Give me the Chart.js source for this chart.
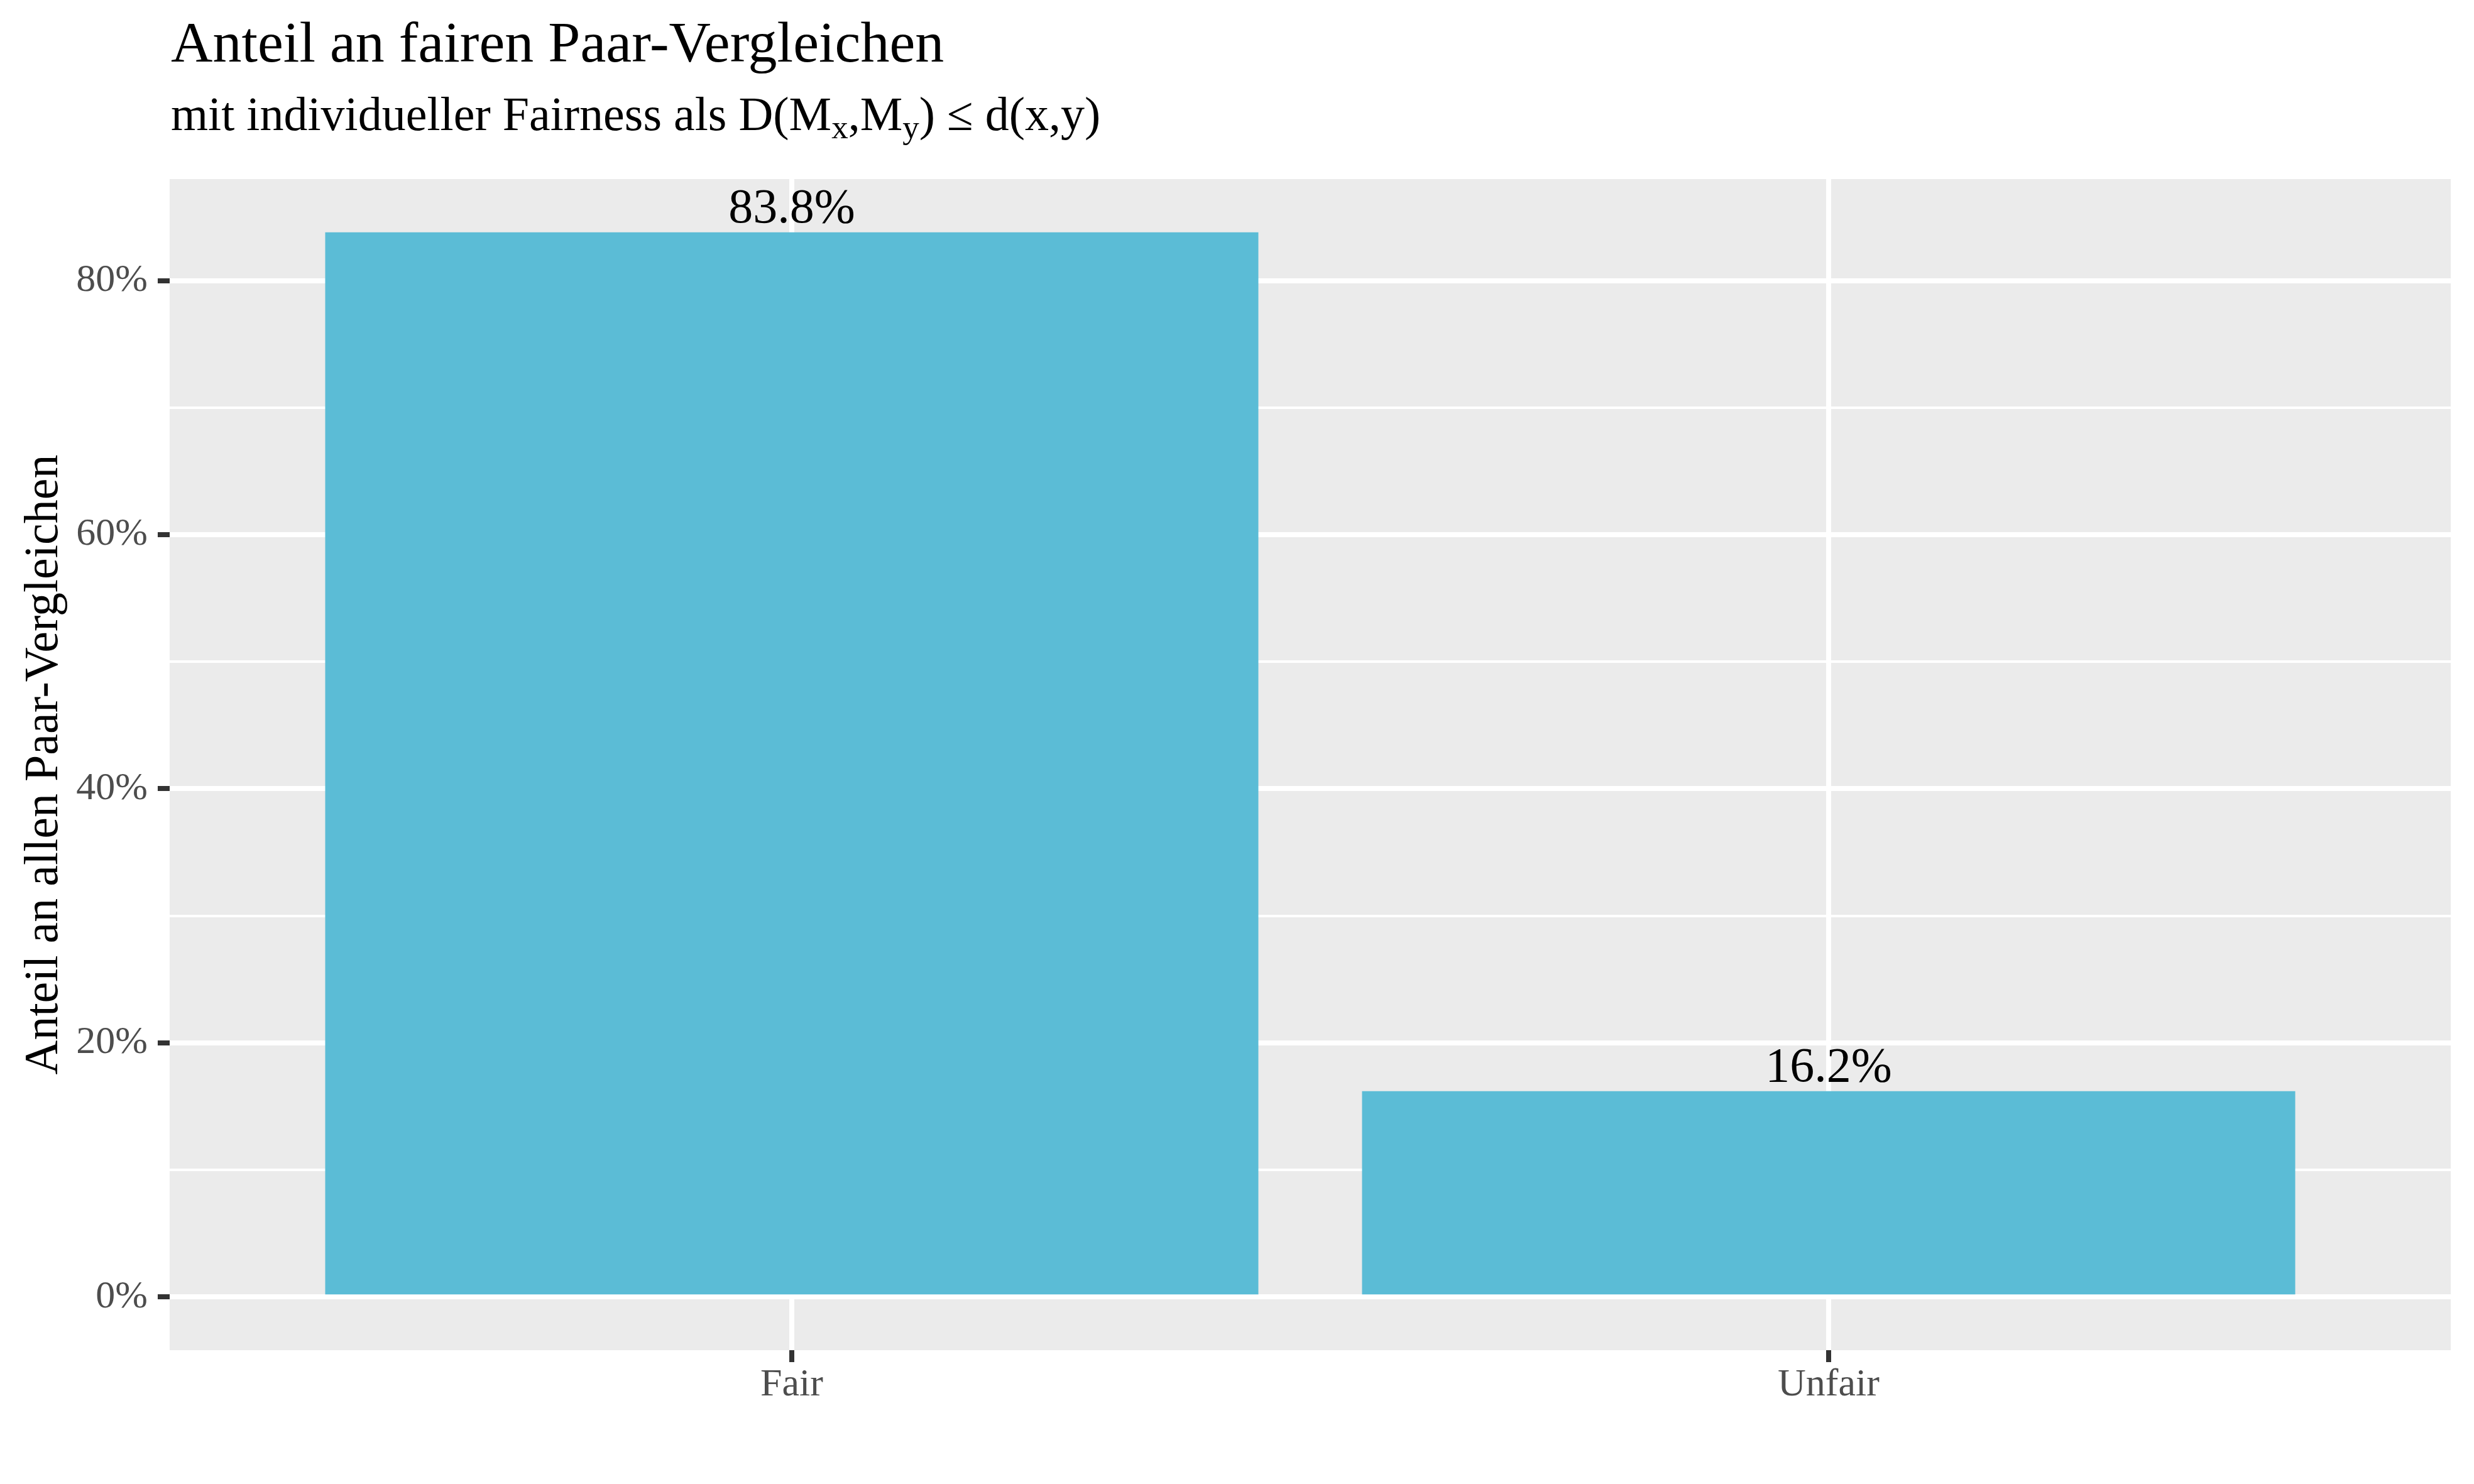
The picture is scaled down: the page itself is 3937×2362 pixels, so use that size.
<!DOCTYPE html>
<html>
<head>
<meta charset="utf-8">
<script src="https://cdn.jsdelivr.net/npm/chart.js@4.4.1/dist/chart.umd.min.js"></script>
<style>
  html, body { margin: 0; padding: 0; background: #ffffff; }
  #shareChart { display: block; }
</style>
</head>
<body>
<canvas id="shareChart" width="3937" height="2362"></canvas>
<script>
// data
const categories = ['Fair', 'Unfair'];
const shares = [83.8, 16.2];
const yMajorTicks = [0, 20, 40, 60, 80];
const yMinorTicks = [10, 30, 50, 70];
const yTickLabels = ['0%', '20%', '40%', '60%', '80%'];

const titleText = 'Anteil an fairen Paar-Vergleichen';
// [text, isSubscript]
const subtitleParts = [
  ['mit individueller Fairness als D(M', false],
  ['x', true],
  [',M', false],
  ['y', true],
  [') \u2264 d(x,y)', false],
];
const yAxisTitle = 'Anteil an allen Paar-Vergleichen';

const FONT = "'Liberation Serif', 'Times New Roman', serif";
const BAR_COLOR = '#5BBCD6';

Chart.defaults.font.family = FONT;

// ggplot-like expansion of the value axis
const maxShare = Math.max(...shares);
const yMin = -0.05 * maxShare;
const yMax = maxShare * 1.05;

const panelBackground = {
  id: 'panelBackground',
  beforeDraw(chart) {
    const { ctx, chartArea: a } = chart;
    ctx.save();
    ctx.fillStyle = '#EBEBEB';
    ctx.fillRect(a.left, a.top, a.right - a.left, a.bottom - a.top);
    ctx.restore();
  }
};

const barLabels = {
  id: 'barLabels',
  afterDatasetsDraw(chart) {
    const { ctx } = chart;
    const meta = chart.getDatasetMeta(0);
    ctx.save();
    ctx.font = `78px ${FONT}`;
    ctx.fillStyle = '#000000';
    ctx.textAlign = 'center';
    ctx.textBaseline = 'alphabetic';
    meta.data.forEach((bar, i) => {
      ctx.fillText(shares[i].toFixed(1) + '%', bar.x, bar.y - 16);
    });
    ctx.restore();
  }
};

const headings = {
  id: 'headings',
  afterDraw(chart) {
    const { ctx } = chart;
    const left = 272;
    ctx.save();
    ctx.fillStyle = '#000000';
    ctx.textAlign = 'left';
    ctx.textBaseline = 'alphabetic';
    ctx.font = `92px ${FONT}`;
    ctx.fillText(titleText, left, 98);

    let x = left;
    subtitleParts.forEach(([text, sub]) => {
      ctx.font = sub ? `53px ${FONT}` : `76px ${FONT}`;
      ctx.fillText(text, x, sub ? 220 : 207);
      x += ctx.measureText(text).width;
    });
    ctx.restore();
  }
};

new Chart(document.getElementById('shareChart'), {
  type: 'bar',
  data: {
    datasets: [
      {
        data: categories.map((c, i) => ({ x: i + 1, y: shares[i] })),
        backgroundColor: BAR_COLOR,
        borderWidth: 0,
        barPercentage: 0.9,
        categoryPercentage: 1,
      },
    ],
  },
  options: {
    responsive: false,
    animation: false,
    devicePixelRatio: 1,
    layout: {
      padding: { left: 0, right: 37, top: 285, bottom: 0 },
    },
    plugins: {
      legend: { display: false },
      tooltip: { enabled: false },
    },
    scales: {
      x: {
        type: 'linear',
        min: 0.4,
        max: 2.6,
        offset: false,
        afterBuildTicks: (scale) => {
          scale.ticks = categories.map((c, i) => ({ value: i + 1 }));
        },
        afterFit: (scale) => {
          scale.height = 213;
        },
        ticks: {
          callback: (value) => categories[Math.round(value) - 1] ?? '',
          font: { size: 62, lineHeight: 1.2 },
          color: '#4D4D4D',
          padding: 0,
          autoSkip: false,
          maxRotation: 0,
        },
        grid: {
          color: '#FFFFFF',
          lineWidth: 8,
          offset: false,
          tickColor: '#333333',
          tickWidth: 8,
          tickLength: 19,
        },
        border: { display: false },
      },
      y: {
        type: 'linear',
        min: yMin,
        max: yMax,
        afterBuildTicks: (scale) => {
          scale.ticks = [...yMajorTicks, ...yMinorTicks]
            .sort((a, b) => a - b)
            .map((v) => ({ value: v }));
        },
        afterFit: (scale) => {
          scale.width = 270;
        },
        ticks: {
          callback: (value) => {
            const k = yMajorTicks.indexOf(value);
            return k >= 0 ? yTickLabels[k] : '';
          },
          font: { size: 62 },
          color: '#4D4D4D',
          padding: 16,
        },
        grid: {
          color: '#FFFFFF',
          lineWidth: (ctx) => (yMajorTicks.includes(ctx.tick.value) ? 8 : 4),
          tickColor: (ctx) => (yMajorTicks.includes(ctx.tick.value) ? '#333333' : 'rgba(0,0,0,0)'),
          tickWidth: 8,
          tickLength: 19,
        },
        border: { display: false },
        title: {
          display: true,
          text: yAxisTitle,
          color: '#000000',
          font: { size: 76, lineHeight: 1 },
          padding: { top: 33, bottom: 0 },
        },
      },
    },
  },
  plugins: [panelBackground, barLabels, headings],
});
</script>
</body>
</html>
